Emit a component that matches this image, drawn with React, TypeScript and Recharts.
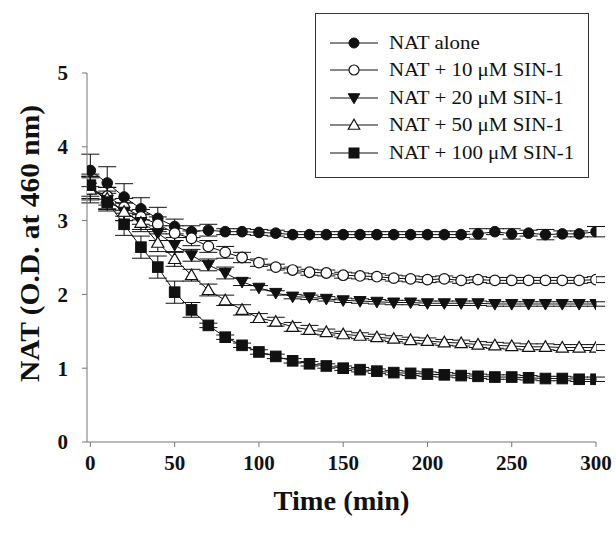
import { LineChart, Line, XAxis, YAxis, ErrorBar, Legend, Label } from 'recharts';

const TIMES = [0, 10, 20, 30, 40, 50, 60, 70, 80, 90, 100, 110, 120, 130, 140, 150, 160, 170, 180, 190, 200, 210, 220, 230, 240, 250, 260, 270, 280, 290, 300];

const SERIES_NAMES = ['NAT alone', 'NAT + 10 \u03bcM SIN-1', 'NAT + 20 \u03bcM SIN-1', 'NAT + 50 \u03bcM SIN-1', 'NAT + 100 \u03bcM SIN-1'];
const MARKERS = ['circleFilled', 'circleOpen', 'triDown', 'triUp', 'square'];

const natAlone = [3.68, 3.51, 3.32, 3.16, 3.03, 2.92, 2.85, 2.87, 2.85, 2.85, 2.84, 2.83, 2.81, 2.81, 2.81, 2.81, 2.81, 2.81, 2.81, 2.81, 2.81, 2.81, 2.81, 2.82, 2.85, 2.82, 2.83, 2.81, 2.82, 2.82, 2.85];
const sin10 = [3.43, 3.33, 3.18, 3.05, 2.95, 2.83, 2.76, 2.65, 2.57, 2.5, 2.43, 2.37, 2.33, 2.3, 2.29, 2.26, 2.25, 2.24, 2.22, 2.21, 2.2, 2.21, 2.19, 2.2, 2.19, 2.19, 2.19, 2.19, 2.19, 2.19, 2.2];
const sin20 = [3.45, 3.28, 3.12, 2.98, 2.83, 2.67, 2.53, 2.4, 2.29, 2.17, 2.09, 2.02, 1.97, 1.96, 1.94, 1.92, 1.91, 1.9, 1.89, 1.89, 1.88, 1.88, 1.88, 1.88, 1.87, 1.87, 1.87, 1.87, 1.87, 1.87, 1.87];
const sin50 = [3.42, 3.3, 3.12, 2.97, 2.7, 2.48, 2.26, 2.06, 1.92, 1.79, 1.68, 1.63, 1.56, 1.52, 1.49, 1.46, 1.44, 1.42, 1.4, 1.38, 1.37, 1.35, 1.34, 1.32, 1.31, 1.3, 1.29, 1.29, 1.28, 1.28, 1.28];
const sin100 = [3.48, 3.25, 2.95, 2.64, 2.37, 2.03, 1.79, 1.58, 1.42, 1.31, 1.22, 1.16, 1.1, 1.06, 1.03, 1.0, 0.98, 0.96, 0.94, 0.93, 0.92, 0.91, 0.9, 0.89, 0.88, 0.88, 0.87, 0.86, 0.86, 0.85, 0.85];

const errNatAlone = [0.22, 0.22, 0.18, 0.15, 0.15, 0.1, 0.08, 0.08, 0.04, 0.04, 0.04, 0.04, 0.04, 0.04, 0.04, 0.04, 0.04, 0.04, 0.04, 0.04, 0.04, 0.04, 0.04, 0.07, 0.04, 0.07, 0.04, 0.07, 0.04, 0.04, 0.07];
const errSin10 = [0.15, 0.12, 0.12, 0.1, 0.1, 0.1, 0.1, 0.08, 0.08, 0.07, 0.05, 0.04, 0.04, 0.04, 0.04, 0.04, 0.04, 0.04, 0.04, 0.04, 0.04, 0.04, 0.04, 0.04, 0.04, 0.04, 0.04, 0.04, 0.04, 0.04, 0.04];
const errSin20 = [0.15, 0.12, 0.12, 0.1, 0.1, 0.1, 0.08, 0.08, 0.08, 0.05, 0.03, 0.03, 0.03, 0.03, 0.03, 0.03, 0.03, 0.03, 0.03, 0.03, 0.03, 0.03, 0.03, 0.03, 0.03, 0.03, 0.03, 0.03, 0.03, 0.03, 0.03];
const errSin50 = [0.18, 0.15, 0.12, 0.12, 0.12, 0.1, 0.08, 0.08, 0.07, 0.07, 0.06, 0.06, 0.06, 0.06, 0.04, 0.04, 0.04, 0.04, 0.04, 0.04, 0.04, 0.04, 0.04, 0.04, 0.04, 0.04, 0.04, 0.04, 0.04, 0.04, 0.04];
const errSin100 = [0.15, 0.12, 0.15, 0.15, 0.15, 0.15, 0.1, 0.03, 0.03, 0.03, 0.03, 0.03, 0.03, 0.03, 0.03, 0.03, 0.03, 0.03, 0.03, 0.03, 0.03, 0.03, 0.03, 0.03, 0.03, 0.03, 0.03, 0.03, 0.03, 0.03, 0.03];

const X_TICKS = [0, 50, 100, 150, 200, 250, 300];
const Y_TICKS = [0, 1, 2, 3, 4, 5];

const VALUES = [natAlone, sin10, sin20, sin50, sin100];
const ERRORS = [errNatAlone, errSin10, errSin20, errSin50, errSin100];

const data = TIMES.map((t, i) => {
  const row: Record<string, number> = { t };
  VALUES.forEach((v, k) => {
    row[`s${k}`] = v[i];
    row[`e${k}`] = ERRORS[k][i];
  });
  return row;
});

const INK = '#111';
const FONT = '"Liberation Serif", "Times New Roman", serif';
const TITLE_STYLE = { fill: INK, fontSize: 27, fontWeight: 'bold', fontFamily: FONT };

function Marker({ kind, cx, cy, s }: { kind: string; cx: number; cy: number; s: number }) {
  if (kind === 'circleFilled') return <circle cx={cx} cy={cy} r={s} fill={INK} stroke={INK} />;
  if (kind === 'circleOpen') return <circle cx={cx} cy={cy} r={s} fill="#fff" stroke={INK} strokeWidth={1.2} />;
  if (kind === 'triDown') {
    const pts = `${cx - s * 1.15},${cy - s * 0.85} ${cx + s * 1.15},${cy - s * 0.85} ${cx},${cy + s * 1.15}`;
    return <polygon points={pts} fill={INK} stroke={INK} />;
  }
  if (kind === 'triUp') {
    const pts = `${cx - s * 1.15},${cy + s * 0.85} ${cx + s * 1.15},${cy + s * 0.85} ${cx},${cy - s * 1.15}`;
    return <polygon points={pts} fill="#fff" stroke={INK} strokeWidth={1.2} />;
  }
  return <rect x={cx - s} y={cy - s} width={s * 2} height={s * 2} fill={INK} stroke={INK} />;
}

function LegendBox() {
  return (
    <div
      style={{
        width: 274,
        height: 165,
        boxSizing: 'border-box',
        border: '1.5px solid #333',
        background: '#fff',
        position: 'relative',
        fontFamily: FONT,
        fontSize: 19,
        color: INK,
      }}
    >
      {SERIES_NAMES.map((name, i) => (
        <div
          key={name}
          style={{
            position: 'absolute',
            left: 14,
            top: 15 + i * 27.5,
            height: 27.5,
            display: 'flex',
            alignItems: 'center',
            whiteSpace: 'nowrap',
          }}
        >
          <svg width={48} height={16} style={{ marginRight: 11 }}>
            <line x1={0} y1={8} x2={48} y2={8} stroke={INK} strokeWidth={1} />
            <Marker kind={MARKERS[i]} cx={24} cy={8} s={5} />
          </svg>
          <span style={{ display: 'inline-block', transform: 'scaleX(1.1)', transformOrigin: 'left center' }}>{name}</span>
        </div>
      ))}
    </div>
  );
}

export default function App() {
  return (
    <div style={{ position: 'absolute', left: 0, top: 0, background: '#fff' }}>
      <LineChart width={616} height={535} data={data} margin={{ top: 73, right: 20, bottom: 0, left: 0 }}>
        <XAxis
          dataKey="t"
          type="number"
          domain={[-2, 300]}
          ticks={X_TICKS}
          allowDataOverflow
          height={93}
          stroke="#777"
          tickSize={5}
          tickMargin={8}
          tick={{ fill: INK, fontSize: 21, fontWeight: 'bold', fontFamily: FONT }}
        >
          <Label
            content={({ viewBox }: any) => {
              const cx = (viewBox?.x ?? 0) + (viewBox?.width ?? 0) / 2;
              const by = (viewBox?.y ?? 0) + 68;
              return (
                <text x={cx} y={by} textAnchor="middle" textLength={136} lengthAdjust="spacingAndGlyphs" style={TITLE_STYLE}>
                  Time (min)
                </text>
              );
            }}
          />
        </XAxis>
        <YAxis
          type="number"
          domain={[0, 5]}
          ticks={Y_TICKS}
          width={87}
          stroke="#777"
          tickSize={5}
          tickMargin={14}
          tick={{ fill: INK, fontSize: 21, fontWeight: 'bold', fontFamily: FONT }}
        >
          <Label
            content={({ viewBox }: any) => {
              const cx = (viewBox?.x ?? 0) + 30;
              const cy = (viewBox?.y ?? 0) + (viewBox?.height ?? 0) / 2 - 14;
              return (
                <text
                  x={cx}
                  y={cy}
                  transform={`rotate(-90 ${cx} ${cy})`}
                  textAnchor="middle"
                  dominantBaseline="central"
                  textLength={277}
                  lengthAdjust="spacingAndGlyphs"
                  style={TITLE_STYLE}
                >
                  NAT (O.D. at 460 nm)
                </text>
              );
            }}
          />
        </YAxis>
        <Legend
          layout="horizontal"
          verticalAlign="middle"
          align="center"
          content={() => <LegendBox />}
          wrapperStyle={{ left: 315, top: 13, width: 274, height: 165 }}
        />
        {SERIES_NAMES.map((name, k) => (
          <Line
            key={name}
            name={name}
            dataKey={`s${k}`}
            type="linear"
            stroke={INK}
            strokeWidth={1}
            isAnimationActive={false}
            dot={(p: any) => <Marker key={`${k}-${p.index}`} kind={MARKERS[k]} cx={p.cx} cy={p.cy} s={5.3} />}
            activeDot={false}
          >
            <ErrorBar dataKey={`e${k}`} width={9} stroke={INK} strokeWidth={1} direction="y" />
          </Line>
        ))}
      </LineChart>
    </div>
  );
}
